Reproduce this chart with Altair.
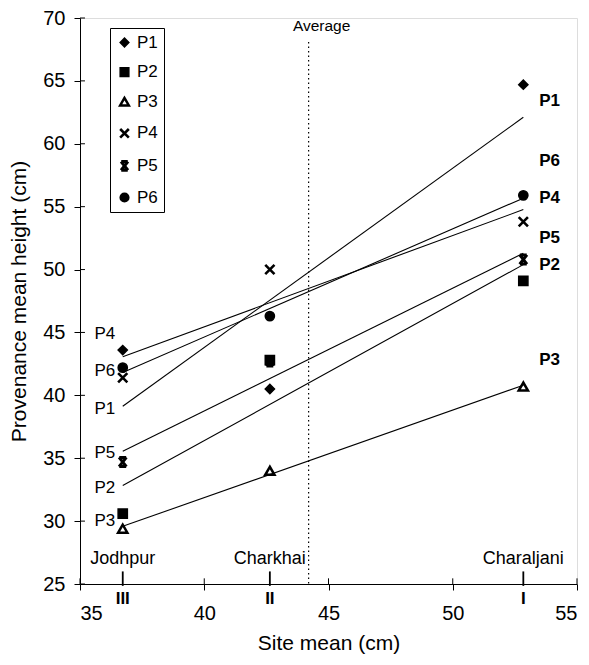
import altair as alt
import pandas as pd

# ---- data ----
provenances = ["P1", "P2", "P3", "P4", "P5", "P6"]
site_names = ["Jodhpur", "Charkhai", "Charaljani"]
site_numerals = ["III", "II", "I"]
site_means = [36.72, 42.64, 52.84]

p1 = [43.6, 40.5, 64.7]
p2 = [30.6, 42.8, 49.1]
p3 = [29.4, 34.0, 40.7]
p4 = [41.4, 50.0, 53.8]
p5 = [34.7, 42.7, 50.8]
p6 = [42.2, 46.3, 55.9]

average_site_mean = 44.2
average_line_top = 68.1

# where the provenance names sit at each end of their fitted lines (value units)
left_label_y = [38.9, 32.6, 30.0, 44.9, 35.4, 41.9]
right_label_y = [63.4, 50.4, 42.8, 55.7, 52.5, 58.6]
left_label_x = 36.0
right_label_x = 53.9

x_ticks = [35, 40, 45, 50, 55]
y_ticks = [25, 30, 35, 40, 45, 50, 55, 60, 65, 70]

FONT = "Liberation Sans"
W, H = 497, 566

series = [p1, p2, p3, p4, p5, p6]
rows = []
for prov, vals in zip(provenances, series):
    for s, m, v in zip(site_names, site_means, vals):
        rows.append({"prov": prov, "site": s, "site_mean": m, "height": v})
df = pd.DataFrame(rows)

sites_df = pd.DataFrame({"site": site_names, "num": site_numerals, "site_mean": site_means})
left_df = pd.DataFrame({"prov": provenances, "y": left_label_y, "x": [left_label_x] * 6})
right_df = pd.DataFrame({"prov": provenances, "y": right_label_y, "x": [right_label_x] * 6})
avg_df = pd.DataFrame({"avg": [average_site_mean], "top": [average_line_top]})
xt_df = pd.DataFrame({"v": x_ticks})
yt_df = pd.DataFrame({"v": y_ticks})

xscale = alt.Scale(domain=[35, 55], nice=False, zero=False)
yscale = alt.Scale(domain=[25, 70], nice=False, zero=False)

XT = "Site mean (cm)"
YT = "Provenance mean height (cm)"
xaxis = alt.Axis(values=x_ticks, title=XT, grid=False, format="d")
yaxis = alt.Axis(values=y_ticks, title=YT, grid=False, format="d")


def X(field):
    return alt.X(field, type="quantitative", scale=xscale, axis=xaxis, title=XT)


def Y(field):
    return alt.Y(field, type="quantitative", scale=yscale, axis=yaxis, title=YT)


def XD(v):
    return alt.XDatum(v, scale=xscale, axis=xaxis, title=XT)


def YD(v):
    return alt.YDatum(v, scale=yscale, axis=yaxis, title=YT)


x_path = "M-1,-1L1,1M-1,1L1,-1"
star_path = "M-0.75,-1H0.75M-0.75,1H0.75M-0.8,-1L0.8,1M0.8,-1L-0.8,1"
shapes = ["diamond", "square", "triangle-up", x_path, star_path, "circle"]
fills = ["black", "black", "white", "black", "black", "black"]
strokes = ["black"] * 6
stroke_widths = [1.5, 1.5, 2.5, 2.6, 3.0, 1.5]

legend = alt.Legend(title=None, orient="none", legendX=30, legendY=10,
                    strokeColor="black", fillColor="white", padding=6, rowPadding=11.6,
                    labelFont=FONT, labelFontSize=17, labelColor="black", labelOffset=4,
                    symbolSize=75, symbolStrokeColor="black",
                    cornerRadius=0)

points = alt.Chart(df).mark_point(filled=False, size=85,
                                  opacity=1, fillOpacity=1, strokeOpacity=1).encode(
    x=X("site_mean"),
    y=Y("height"),
    shape=alt.Shape("prov:N", scale=alt.Scale(domain=provenances, range=shapes), legend=legend),
    fill=alt.Fill("prov:N", scale=alt.Scale(domain=provenances, range=fills), legend=legend),
    stroke=alt.Stroke("prov:N", scale=alt.Scale(domain=provenances, range=strokes), legend=legend),
    strokeWidth=alt.StrokeWidth("prov:N", scale=alt.Scale(type="ordinal", domain=provenances,
                                                          range=stroke_widths), legend=legend),
)

lines = alt.Chart(df).transform_regression(
    "site_mean", "height", groupby=["prov"]
).mark_line(color="black", strokeWidth=1.1).encode(
    x=X("site_mean"),
    y=Y("height"),
    detail="prov:N",
)

avg_rule = alt.Chart(avg_df).mark_rule(color="black", strokeWidth=1.2, strokeDash=[1.5, 3]).encode(
    x=X("avg"),
    y=Y("top"),
    y2=alt.datum(25),
)
avg_text = alt.Chart(avg_df).mark_text(font=FONT, fontSize=15.5, color="black", dx=13, dy=2).encode(
    x=X("avg"),
    y=YD(69.5),
    text=alt.value("Average"),
)

site_ticks = alt.Chart(sites_df).mark_rule(color="black", strokeWidth=1.8).encode(
    x=X("site_mean"),
    y=YD(24.85),
    y2=alt.datum(26.0),
)
site_text = alt.Chart(sites_df).mark_text(font=FONT, fontSize=18, color="black", baseline="middle").encode(
    x=X("site_mean"),
    y=YD(27.0),
    text="site:N",
)
site_num = alt.Chart(sites_df).mark_text(font=FONT, fontSize=17, fontWeight="bold", color="black",
                                         baseline="middle").encode(
    x=X("site_mean"),
    y=YD(23.8),
    text="num:N",
)

xt_in = alt.Chart(xt_df).mark_rule(color="black", strokeWidth=1).encode(
    x=X("v"), y=YD(25), y2=alt.datum(25.45))
yt_in = alt.Chart(yt_df).mark_rule(color="black", strokeWidth=1).encode(
    y=Y("v"), x=XD(35), x2=alt.datum(35.2))

left_text = alt.Chart(left_df).mark_text(font=FONT, fontSize=17, color="black").encode(
    x=X("x"),
    y=Y("y"),
    text="prov:N",
)
right_text = alt.Chart(right_df).mark_text(font=FONT, fontSize=17, fontWeight="bold", color="black").encode(
    x=X("x"),
    y=Y("y"),
    text="prov:N",
)

chart = alt.layer(
    points, lines, avg_rule, avg_text, site_ticks, site_text, site_num,
    xt_in, yt_in, left_text, right_text,
).properties(
    width=W, height=H,
    autosize=alt.AutoSizeParams(type="none"),
    padding={"left": 72, "top": 10, "right": 4, "bottom": 72},
).configure_view(stroke=None).configure(background="white").configure_axis(
    domainColor="black", tickColor="black", labelColor="black", titleColor="black",
    labelFont=FONT, titleFont=FONT, labelFontSize=20, titleFontSize=21,
    titleFontWeight="normal",
).configure_axisX(
    tickSize=6, labelPadding=13, titlePadding=9,
).configure_axisY(
    tickSize=6, labelPadding=9, titlePadding=13,
)

chart.save("out.html", embed_options={"renderer": "svg", "actions": False})
